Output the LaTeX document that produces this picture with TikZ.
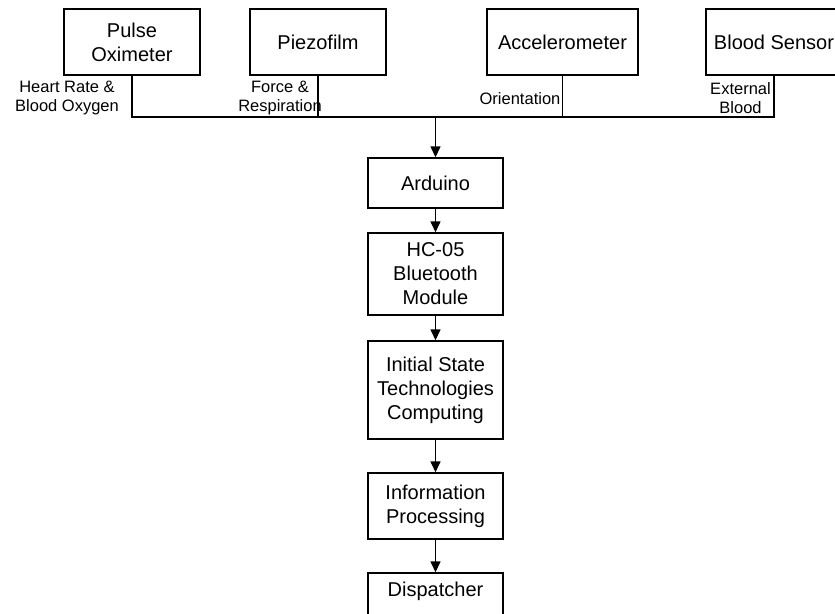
\documentclass[tikz,border=0pt]{standalone}
\usepackage{fontspec}
\setmainfont{Liberation Sans}
\usetikzlibrary{arrows.meta}
\tikzset{
  box/.style={draw=black, line width=1.4pt, fill=white, minimum width=136pt, inner sep=0pt, align=center, font=\fontsize{20}{24}\selectfont},
  lbl/.style={inner sep=0pt, align=center, font=\fontsize{16.5}{19}\selectfont},
  wire/.style={draw=black, line width=1.4pt},
  arr/.style={wire, -{Triangle[width=10pt,length=11pt]}}
}
\begin{document}
\begin{tikzpicture}[x=1pt,y=-1pt]
\useasboundingbox (0,0) rectangle (835,613);
\clip (0,0) rectangle (835,613);
% top sensors
\node[box, minimum height=66pt] (pulse) at (132,42) {Pulse\\Oximeter};
\node[box, minimum height=66pt] (piezo) at (318,42) {Piezofilm};
\node[box, minimum height=66pt, minimum width=151pt] (accel) at (562.5,42) {Accelerometer};
\node[box, minimum height=66pt] (blood) at (774,42) {Blood Sensor};
% labels
\node[lbl] (lhr) at (67,98.5) {Heart Rate \&\\Blood Oxygen};
\node[lbl] (lfr) at (280,98.5) {Force \&\\Respiration};
\node[lbl] (lor) at (520,99) {Orientation};
\node[lbl] (lex) at (740.5,98.5) {External\\Blood};
% chain
\node[box, minimum height=50pt, minimum width=135pt] (ard) at (435.5,183) {Arduino};
\node[box, minimum height=82pt, minimum width=135pt] (hc) at (435.5,274) {HC-05\\Bluetooth\\Module};
\node[box, minimum height=98pt, minimum width=135pt] (ist) at (435.5,390) {Initial State\\Technologies\\Computing};
\node[box, minimum height=66pt, minimum width=135pt] (info) at (435.5,506) {Information\\Processing};
\node[box, minimum height=66pt, minimum width=135pt] (disp) at (435.5,606) {};
\node[font=\fontsize{20}{24}\selectfont, inner sep=0pt] (dtxt) at (435.5,591) {Dispatcher};
% bus
\coordinate (j) at (435.5,117);
\draw[wire] (pulse.south) -- (pulse.south |- j) -- (blood.south |- j) -- (blood.south);
\draw[wire] (piezo.south) -- (piezo.south |- j);
\draw[wire] (accel.south) -- (accel.south |- j);
\draw[arr] (j) -- (ard.north);
\draw[arr] (ard.south) -- (hc.north);
\draw[arr] (hc.south) -- (ist.north);
\draw[arr] (ist.south) -- (info.north);
\draw[arr] (info.south) -- (disp.north);
\end{tikzpicture}
\end{document}
